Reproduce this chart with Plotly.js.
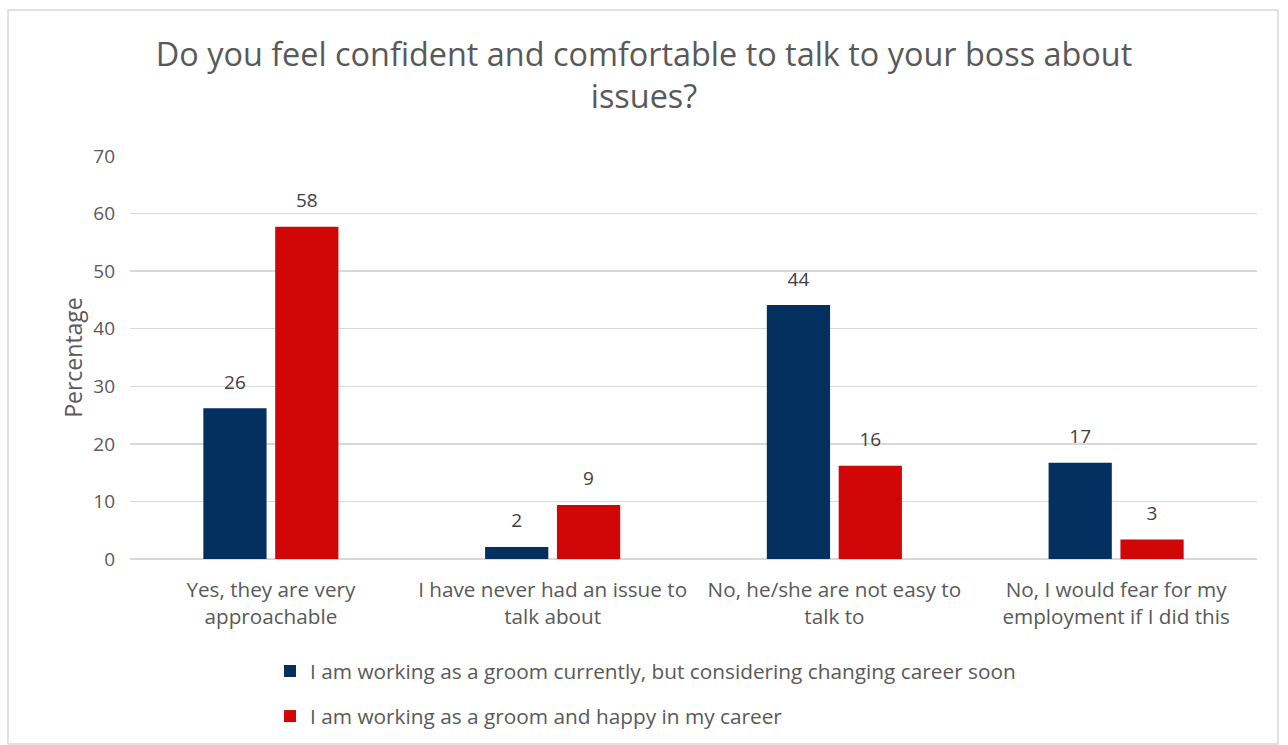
<!DOCTYPE html>
<html>
<head>
<meta charset="utf-8">
<script src="https://cdn.plot.ly/plotly-3.0.1.min.js"></script>
<style>
html,body{margin:0;padding:0;background:#fff;}
#chart{width:1288px;height:745px;}
</style>
</head>
<body>
<div id="chart"></div>
<script>
const categories = [
  "Yes, they are very<br>approachable",
  "I have never had an issue to<br>talk about",
  "No, he/she are not easy to<br>talk to",
  "No, I would fear for my<br>employment if I did this"
];
const seriesNames = [
  "I am working as a groom currently, but considering changing career soon",
  "I am working as a groom and happy in my career"
];
const considering = [26.2, 2.1, 44.1, 16.7];
const happy = [57.7, 9.4, 16.2, 3.4];
const yTicks = [0, 10, 20, 30, 40, 50, 60, 70];

const font = "'Open Sans', sans-serif";
const txt = "#595959";
const colors = ['#03305F', '#D10606'];

const seriesVals = [considering, happy];
const traces = [];
seriesVals.forEach((vals, i) => {
  traces.push({type:'bar', name: seriesNames[i], x: categories, y: vals,
    marker:{color:colors[i]}, offsetgroup:String(i), legendgroup:String(i), hoverinfo:'y'});
});
seriesVals.forEach((vals, i) => {
  traces.push({type:'scatter', mode:'markers+text', x: categories, y: vals,
    text: vals.map(v=>Math.round(v).toString()), textposition:'top center',
    textfont:{size:19,color:'#404040',family:font},
    marker:{size:22, opacity:0, color:colors[i]}, offsetgroup:String(i),
    legendgroup:String(i), showlegend:false, hoverinfo:'skip', cliponaxis:false});
});

const L=130, R=1257, T=156, B=559;
const pw = R-L, ph = B-T;
function px(x){return (x-L)/pw;}
function py(y){return (B-y)/ph;}

const layout = {
  width:1288, height:745,
  margin:{l:L, r:1288-R, t:T, b:745-B, autoexpand:false},
  paper_bgcolor:'#fff', plot_bgcolor:'#fff',
  font:{family:font, color:txt},
  title:{text:"Do you feel confident and comfortable to talk to your boss about<br>issues?",
         font:{size:32.4, color:txt, family:font}, x:0.5, xanchor:'center', y:0.912, yanchor:'top'},
  barmode:'group', bargap:0.49, bargroupgap:0.12,
  scattermode:'group', scattergap:0.49,
  xaxis:{tickfont:{size:20.7,color:txt,family:font}, showline:false, ticks:'', showgrid:false,
         ticklabelstandoff:16, automargin:false},
  yaxis:{range:[0,70], tickvals:yTicks, ticktext:yTicks.map(String), showgrid:true,
         gridcolor:'#d9d9d9', gridwidth:1.5, zeroline:true, zerolinecolor:'#d9d9d9', zerolinewidth:1.5,
         tickfont:{size:19,color:txt,family:font}, ticks:'', ticklabelstandoff:14, automargin:false,
         title:{text:'Percentage', font:{size:23,color:txt,family:font}, standoff:4}},
  showlegend:true,
  legend:{orientation:'v', x:px(270), xanchor:'left', y:py(651), yanchor:'top',
          font:{size:20.8,color:txt,family:font}, tracegroupgap:15, traceorder:'grouped',
          itemwidth:30, bgcolor:'rgba(0,0,0,0)'},
  shapes:[{type:'rect', xref:'paper', yref:'paper',
           x0:px(8), x1:px(1278), y0:py(744), y1:py(10),
           line:{color:'#d9d9d9', width:1.5}, fillcolor:'rgba(0,0,0,0)', layer:'below'}]
};

Plotly.newPlot('chart', traces, layout, {displayModeBar:false, staticPlot:true});
</script>
</body>
</html>
